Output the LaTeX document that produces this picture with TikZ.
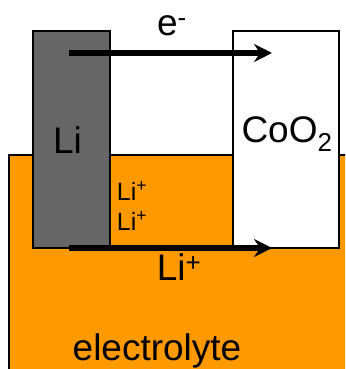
\documentclass[tikz,border=0pt]{standalone}
\usepackage{fontspec}
\setmainfont{Liberation Sans}
\usetikzlibrary{arrows.meta}
\definecolor{bathorange}{RGB}{255,153,0}
\definecolor{anodegray}{RGB}{102,102,102}
\tikzset{
  electrode/.style={draw=black, line width=1.5pt, inner sep=0pt, outer sep=0pt, anchor=north west},
  transfer/.style={-{Stealth[length=18pt,width=18pt,inset=6pt]}, line width=6pt, black},
  biglabel/.style={font=\fontsize{37}{37}\selectfont, inner sep=0pt},
  smalllabel/.style={font=\fontsize{25}{25}\selectfont, inner sep=0pt}
}
\begin{document}
\begin{tikzpicture}[x=1pt,y=-1pt]
	\path[use as bounding box, clip] (0,0) rectangle (345,369);
	% Electrolito
		\node[electrode, fill=bathorange, minimum width=360pt, minimum height=240pt] (bath) at (9,155) {};
	% Electrodos
		\node[electrode, fill=anodegray, minimum width=77pt, minimum height=217pt] (anode) at (33,31) {};
		\node[electrode, fill=white, minimum width=106pt, minimum height=217pt] (cathode) at (233,31) {};
	% Flechas
		\coordinate (eStart) at (69,53);
		\coordinate (eEnd) at (272,53);
		\coordinate (ionStart) at (69,248);
		\coordinate (ionEnd) at (272,248);
		\draw[transfer] (eStart) -- (eEnd);
		\draw[transfer] (ionStart) -- (ionEnd);
	% Textos
		\node[biglabel] (eLabel) at (172,26) {e\textsuperscript{-}};
		\node[biglabel] (liLabel) at (67.5,140) {Li};
		\node[biglabel] (cooLabel) at (287,134) {CoO\textsubscript{2}};
		\node[smalllabel] (ionA) at (132,191) {Li\textsuperscript{+}};
		\node[smalllabel] (ionB) at (132,221) {Li\textsuperscript{+}};
		\node[biglabel] (ionLabel) at (179,267) {Li\textsuperscript{+}};
		\node[biglabel] (bathLabel) at (157,351) {electrolyte};
\end{tikzpicture}
\end{document}
